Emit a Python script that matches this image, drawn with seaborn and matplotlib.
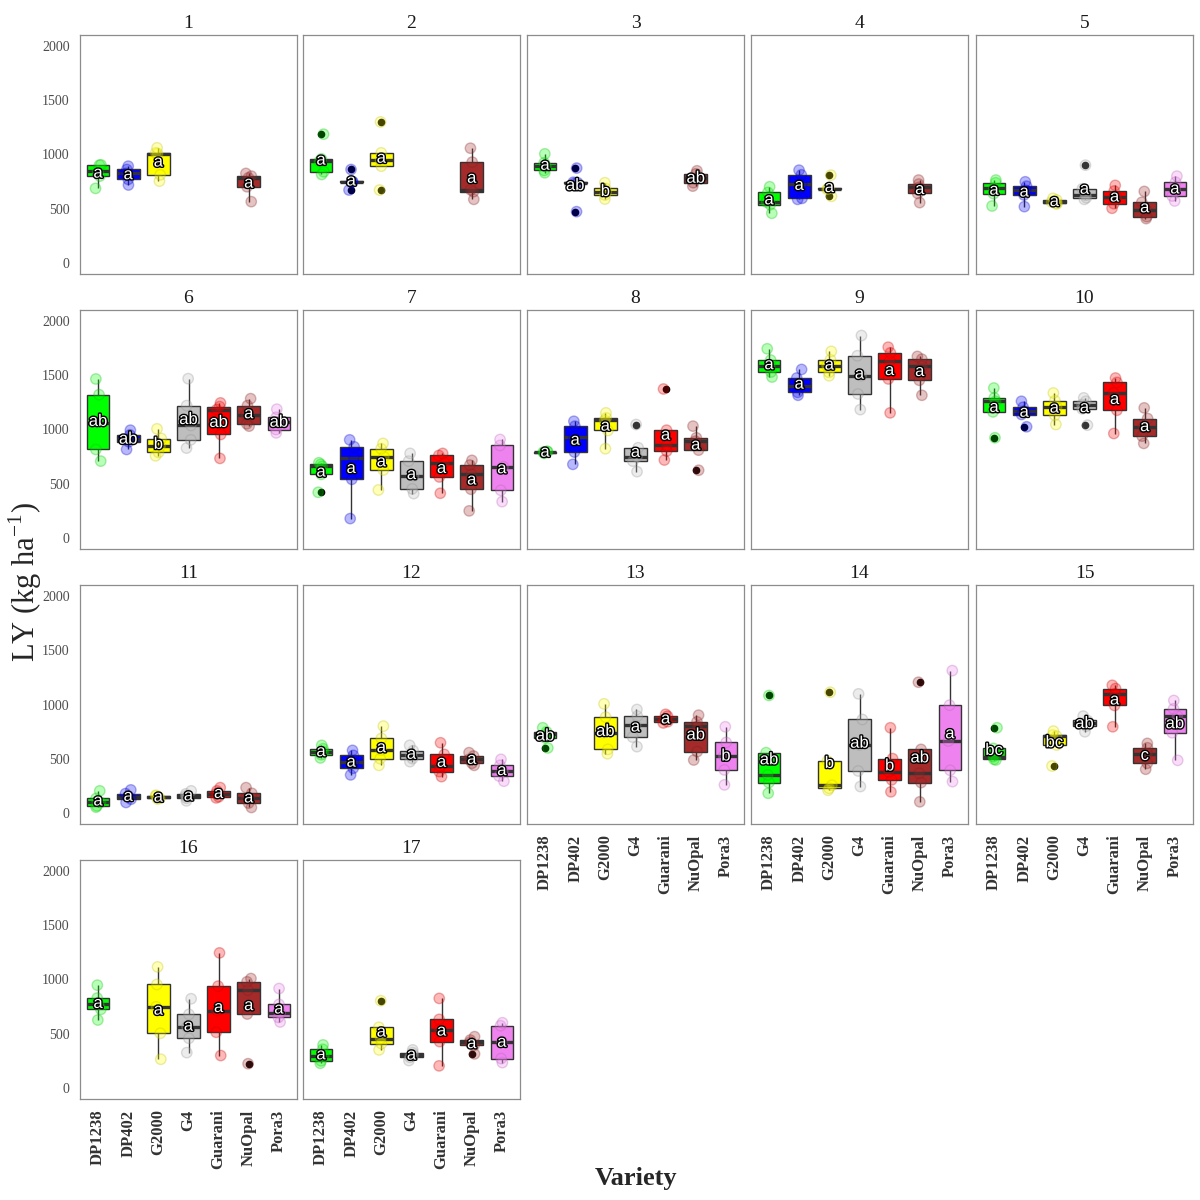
import matplotlib
matplotlib.use("Agg")
import matplotlib.pyplot as plt
import matplotlib.patheffects as pe
import seaborn as sns
import pandas as pd
import numpy as np

# LY (kg/ha) por ambiente (1-17) y variedad; None = variedad no sembrada
environments = list(range(1, 18))
varieties = ["DP1238", "DP402", "G2000", "G4", "Guarani", "NuOpal", "Pora3"]
colors = ["#00FF00", "#0000FF", "#FFFF00", "#BEBEBE", "#FF0000", "#A52A2A", "#EE82EE"]

ly_dp1238 = [[688, 801, 847, 902, 905], [816, 841, 936, 960, 1187], [832, 853, 890, 924, 1006],
             [459, 538, 563, 651, 703], [526, 639, 688, 740, 765], [709, 816, 1064, 1321, 1465],
             [422, 587, 661, 679, 694], [780, 788, 792, 796, 800], [1483, 1529, 1587, 1639, 1743],
             [924, 1162, 1260, 1291, 1382], [55, 67, 98, 135, 205], [508, 538, 566, 593, 624],
             [600, 694, 725, 749, 786], [183, 281, 352, 557, 1083], [489, 495, 520, 596, 786],
             [627, 725, 771, 829, 948], [229, 251, 297, 358, 398]]
ly_dp402 = [[719, 771, 826, 862, 893], [673, 745, 749, 752, 862], [474, 735, 740, 745, 875],
            [587, 596, 728, 813, 856], [520, 627, 670, 709, 749], [816, 887, 908, 951, 994],
            [180, 541, 740, 841, 905], [679, 792, 930, 1031, 1076], [1315, 1342, 1404, 1474, 1553],
            [1025, 1138, 1168, 1205, 1260], [98, 128, 153, 180, 214], [352, 413, 471, 532, 578],
            None, None, None, None, None]
ly_g2000 = [[755, 813, 1009, 1015, 1061], [673, 893, 948, 1015, 1300], [590, 627, 655, 688, 740],
            [615, 680, 685, 690, 810], [545, 550, 563, 581, 596], [758, 789, 847, 917, 1006],
            [443, 627, 749, 823, 872], [823, 991, 1083, 1107, 1153], [1495, 1526, 1587, 1642, 1719],
            [1046, 1131, 1208, 1266, 1336], [130, 135, 147, 159, 165], [440, 502, 581, 688, 801],
            [547, 587, 740, 884, 1006], [211, 229, 257, 480, 1113], [434, 627, 709, 719, 755],
            [266, 505, 749, 954, 1116], [352, 410, 456, 560, 805]]
ly_g4 = [None, None, None, None, [587, 602, 625, 685, 902], [829, 905, 1037, 1220, 1468],
         [410, 453, 575, 709, 780], [612, 709, 749, 832, 1046], [1183, 1327, 1495, 1679, 1865],
         [1040, 1190, 1229, 1260, 1291], [113, 138, 159, 177, 205], [474, 502, 535, 575, 624],
         [612, 700, 807, 893, 954], [245, 388, 627, 862, 1098], [749, 801, 826, 853, 893],
         [327, 459, 566, 679, 823], [254, 284, 306, 327, 352]]
ly_guarani = [None, None, None, None, [505, 547, 612, 664, 716], [734, 954, 1183, 1211, 1245],
              [413, 563, 694, 761, 780], [719, 801, 853, 994, 1373], [1153, 1465, 1633, 1706, 1758],
              [963, 1177, 1336, 1434, 1474], [140, 150, 180, 205, 235], [336, 382, 434, 541, 648],
              [830, 841, 862, 893, 910], [196, 306, 379, 502, 786], [795, 991, 1098, 1147, 1177],
              [300, 514, 713, 939, 1245], [205, 428, 535, 633, 826]]
ly_nuopal = [[566, 703, 786, 801, 826], [587, 657, 675, 930, 1058], [709, 740, 786, 823, 850],
             [557, 642, 697, 728, 765], [410, 428, 489, 560, 660], [1031, 1052, 1138, 1220, 1284],
             [251, 450, 587, 673, 716], [625, 810, 893, 924, 1031], [1315, 1453, 1581, 1648, 1673],
             [872, 939, 1021, 1101, 1199], [52, 92, 135, 183, 235], [440, 459, 495, 526, 557],
             [489, 566, 800, 841, 902], [104, 281, 367, 587, 1205], [404, 459, 547, 602, 642],
             [225, 682, 902, 979, 1009], [315, 394, 422, 443, 474]]
ly_pora3 = [None, None, None, None, [572, 618, 679, 746, 801], [969, 1000, 1067, 1113, 1187],
            [336, 440, 657, 853, 908], None, None, None, None, [294, 342, 388, 440, 495],
            [260, 398, 526, 651, 795], [290, 394, 664, 994, 1312], [486, 740, 893, 960, 1037],
            [609, 651, 694, 771, 917], [235, 272, 428, 575, 602]]

# letras de comparacion de medias ("-" = sin dato)
let_dp1238 = "a a a a a ab a a a a a a ab ab bc a a".split()
let_dp402 = "a a ab a a ab a a a a a a - - - - -".split()
let_g2000 = "a a b a a b a a a a a a ab b bc a a".split()
let_g4 = "- - - - a ab a a a a a a a ab ab a a".split()
let_guarani = "- - - - a ab a a a a a a a b a a a".split()
let_nuopal = "a a ab a a a a a a a a a ab ab c a a".split()
let_pora3 = "- - - - a ab a - - - - a b a ab a a".split()

ly_all = [ly_dp1238, ly_dp402, ly_g2000, ly_g4, ly_guarani, ly_nuopal, ly_pora3]
let_all = [let_dp1238, let_dp402, let_g2000, let_g4, let_guarani, let_nuopal, let_pora3]

rows = []
for var, serie, letras in zip(varieties, ly_all, let_all):
    for env, vals, let in zip(environments, serie, letras):
        if vals is None:
            continue
        for v in vals:
            rows.append({"env": env, "variety": var, "ly": v, "letter": let})
df = pd.DataFrame(rows)

sns.set_style("white")
plt.rcParams["font.family"] = ["Liberation Serif", "DejaVu Serif"]
plt.rcParams["mathtext.fontset"] = "custom"
plt.rcParams["mathtext.rm"] = "Liberation Serif"

pal = dict(zip(varieties, colors))
fig = plt.figure(figsize=(12, 12), dpi=100)
col_left = [80, 303, 527, 751, 976]
row_top = [35, 310, 585, 860]
pw, ph = 217, 239
np.random.seed(7)

for i, env in enumerate(environments):
    r, c = divmod(i, 5)
    ax = fig.add_axes([col_left[c] / 1200, 1 - (row_top[r] + ph) / 1200, pw / 1200, ph / 1200])
    sub = df[df.env == env]
    sns.boxplot(data=sub, x="variety", y="ly", hue="variety", order=varieties, hue_order=varieties,
                palette=pal, saturation=1, width=0.75, linecolor="#333333", linewidth=1.0,
                legend=False, ax=ax, showcaps=False,
                medianprops=dict(linewidth=2.4, color="#333333"),
                flierprops=dict(marker="o", markerfacecolor="black", markeredgecolor="black",
                                markersize=4.5))
    n0 = len(ax.collections)
    sns.stripplot(data=sub, x="variety", y="ly", hue="variety", order=varieties, hue_order=varieties,
                  palette=pal, jitter=0.1, size=7.5, linewidth=1.0, legend=False, ax=ax, zorder=4)
    for coll in ax.collections[n0:]:
        fc = np.array(coll.get_facecolors())
        if len(fc) == 0:
            continue
        face = fc.copy()
        face[:, 3] = 0.28
        edge = fc.copy()
        edge[:, :3] = edge[:, :3] * 0.75
        edge[:, 3] = 0.3
        coll.set_facecolor(face)
        coll.set_edgecolor(edge)

    # letras en la media de cada variedad
    for var, g in sub.groupby("variety"):
        ax.text(varieties.index(var), g["ly"].mean(), g["letter"].iloc[0],
                ha="center", va="center", color="white", fontsize=12,
                family=["Liberation Sans", "DejaVu Sans"], zorder=6,
                path_effects=[pe.withStroke(linewidth=2.0, foreground="black")])

    ax.set_xlim(-0.6, 6.6)
    ax.set_ylim(-100, 2100)
    ax.set_xlabel("")
    ax.set_ylabel("")
    ax.set_title(str(env), fontsize=14, pad=5, color="#1a1a1a")
    for s in ax.spines.values():
        s.set_color("#8c8c8c")
        s.set_linewidth(0.9)
    ax.tick_params(direction="out", length=4, width=0.8, color="#333333")
    if c == 0:
        ax.set_yticks([0, 500, 1000, 1500, 2000])
        ax.set_yticklabels(["0", "500", "1000", "1500", "2000"], fontsize=10, color="#4D4D4D")
    else:
        ax.set_yticks([])
    if env >= 13:
        ax.set_xticks(range(len(varieties)))
        ax.set_xticklabels(varieties, rotation=90, fontsize=12, fontweight="bold", color="#333333")
    else:
        ax.set_xticks([])

fig.text(0.53, 0.018, "Variety", ha="center", va="center", fontsize=19, fontweight="bold")
fig.text(0.021, 0.515, r"LY (kg ha$^{-1}$)", ha="center", va="center", rotation=90,
         fontsize=22)

fig.savefig("out.png", dpi=100)
